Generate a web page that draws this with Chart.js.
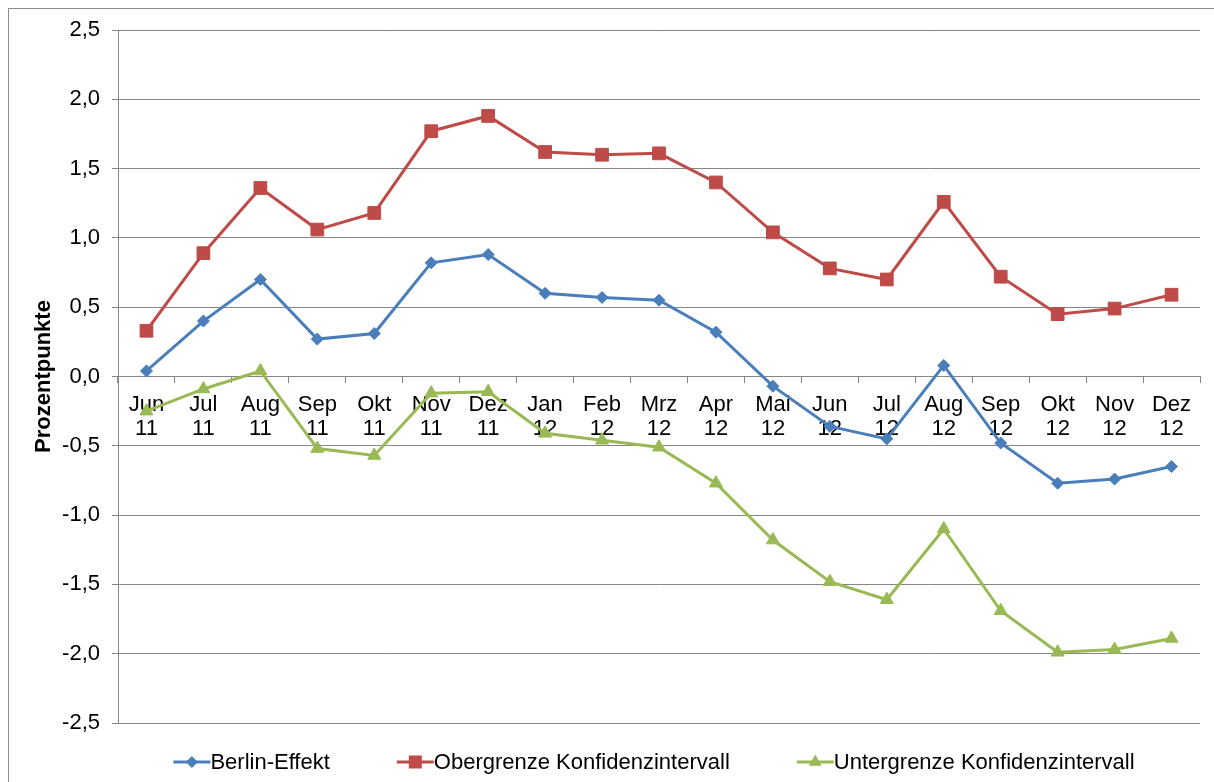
<!DOCTYPE html>
<html>
<head>
<meta charset="utf-8">
<script src="https://cdn.jsdelivr.net/npm/chart.js"></script>
<style>
  html, body { margin: 0; padding: 0; background: #fff; overflow: hidden; }
  #frame { position: absolute; left: 8px; top: 8px; width: 1300px; height: 900px; border: 1px solid #8c8c8c; }
  #wrap { position: absolute; left: 0; top: 0; width: 1214px; height: 782px; }
</style>
</head>
<body>
<div id="frame"></div>
<div id="wrap"><canvas id="myChart"></canvas></div>
<script>
// Monate (zweizeilige Beschriftung)
const months = [
  ['Jun', '11'], ['Jul', '11'], ['Aug', '11'], ['Sep', '11'], ['Okt', '11'], ['Nov', '11'], ['Dez', '11'],
  ['Jan', '12'], ['Feb', '12'], ['Mrz', '12'], ['Apr', '12'], ['Mai', '12'], ['Jun', '12'], ['Jul', '12'],
  ['Aug', '12'], ['Sep', '12'], ['Okt', '12'], ['Nov', '12'], ['Dez', '12']
];
const berlinEffekt = [0.04, 0.40, 0.70, 0.27, 0.31, 0.82, 0.88, 0.60, 0.57, 0.55, 0.32, -0.07, -0.36, -0.45, 0.08, -0.48, -0.77, -0.74, -0.65];
const obergrenze   = [0.33, 0.89, 1.36, 1.06, 1.18, 1.77, 1.88, 1.62, 1.60, 1.61, 1.40, 1.04, 0.78, 0.70, 1.26, 0.72, 0.45, 0.49, 0.59];
const untergrenze  = [-0.25, -0.09, 0.04, -0.52, -0.57, -0.12, -0.11, -0.41, -0.46, -0.51, -0.77, -1.18, -1.48, -1.61, -1.10, -1.69, -1.99, -1.97, -1.89];
const seriesNames = ['Berlin-Effekt', 'Obergrenze Konfidenzintervall', 'Untergrenze Konfidenzintervall'];
const yMin = -2.5, yMax = 2.5, yStep = 0.5;

const blue = '#4A7EBB', red = '#BE4B48', green = '#98B954';
const gridColor = '#868686';
const fontFamily = '"Liberation Sans", Arial, sans-serif';
const fontSize = 22;

function marker(ctx, style, x, y) {
  ctx.beginPath();
  if (style === 'rectRot') {
    const r = 6;
    ctx.moveTo(x, y - r); ctx.lineTo(x + r, y); ctx.lineTo(x, y + r); ctx.lineTo(x - r, y);
  } else if (style === 'rect') {
    const s = 6.5;
    ctx.rect(x - s, y - s, 2 * s, 2 * s);
  } else {
    const r = 7.5;
    ctx.moveTo(x, y - r);
    ctx.lineTo(x + r * 0.866, y + r * 0.5);
    ctx.lineTo(x - r * 0.866, y + r * 0.5);
  }
  ctx.closePath();
  ctx.fill();
}

// Legende im Excel-Stil (Linie mit Marker)
const excelLegend = {
  id: 'excelLegend',
  afterDraw(chart) {
    const ctx = chart.ctx;
    const area = chart.chartArea;
    ctx.save();
    ctx.font = fontSize + 'px ' + fontFamily;
    const lineLen = 37, gap = 67;
    const ds = chart.data.datasets;
    const widths = ds.map(d => lineLen + ctx.measureText(d.label).width);
    const total = widths.reduce((a, b) => a + b, 0) + gap * (ds.length - 1);
    let x = (area.left + area.right) / 2 - total / 2 - 5;
    const y = area.bottom + 39;
    ds.forEach((d, i) => {
      ctx.strokeStyle = d.borderColor;
      ctx.fillStyle = d.borderColor;
      ctx.lineWidth = 3;
      ctx.beginPath();
      ctx.moveTo(x, y); ctx.lineTo(x + lineLen, y);
      ctx.stroke();
      marker(ctx, d.pointStyle, x + lineLen / 2, y);
      ctx.fillStyle = '#000';
      ctx.textBaseline = 'middle';
      ctx.textAlign = 'left';
      ctx.fillText(d.label, x + lineLen, y + 1);
      x += widths[i] + gap;
    });
    ctx.restore();
  }
};

const ctx1 = document.getElementById('myChart').getContext('2d');
const graph = new Chart(ctx1, {
  type: 'line',
  data: {
    labels: months,
    datasets: [{
      label: seriesNames[0],
      data: berlinEffekt,
      borderColor: blue,
      backgroundColor: blue,
      pointStyle: 'rectRot',
      pointRadius: 6,
      pointBorderWidth: 1
    }, {
      label: seriesNames[1],
      data: obergrenze,
      borderColor: red,
      backgroundColor: red,
      pointStyle: 'rect',
      pointRadius: 9,
      pointBorderWidth: 1
    }, {
      label: seriesNames[2],
      data: untergrenze,
      borderColor: green,
      backgroundColor: green,
      pointStyle: 'triangle',
      pointRadius: 7.5,
      pointBorderWidth: 1
    }]
  },
  options: {
    responsive: true,
    maintainAspectRatio: false,
    animation: false,
    elements: { line: { borderWidth: 3, tension: 0 } },
    layout: { padding: { left: 0, right: 14, top: 30, bottom: 59 } },
    plugins: {
      legend: { display: false },
      tooltip: { enabled: false }
    },
    scales: {
      x: {
        position: { y: 0 },
        offset: true,
        grid: { offset: true, drawOnChartArea: false, drawTicks: true, tickLength: 6, color: gridColor },
        border: { color: gridColor, width: 1 },
        ticks: {
          color: '#000',
          font: { family: fontFamily, size: fontSize, lineHeight: 1.1 },
          padding: 10,
          maxRotation: 0,
          autoSkip: false
        }
      },
      y: {
        min: yMin,
        max: yMax,
        afterFit(scale) { scale.width = 118; },
        ticks: {
          stepSize: yStep,
          color: '#000',
          font: { family: fontFamily, size: fontSize },
          padding: 12,
          callback: v => v.toFixed(1).replace('.', ',')
        },
        grid: { color: gridColor, tickLength: 6 },
        border: { color: gridColor, width: 1 },
        title: {
          display: true,
          text: 'Prozentpunkte',
          color: '#000',
          font: { family: fontFamily, size: fontSize, weight: 'bold' },
          padding: { top: 31, bottom: 0 }
        }
      }
    }
  },
  plugins: [excelLegend]
});
</script>
</body>
</html>
